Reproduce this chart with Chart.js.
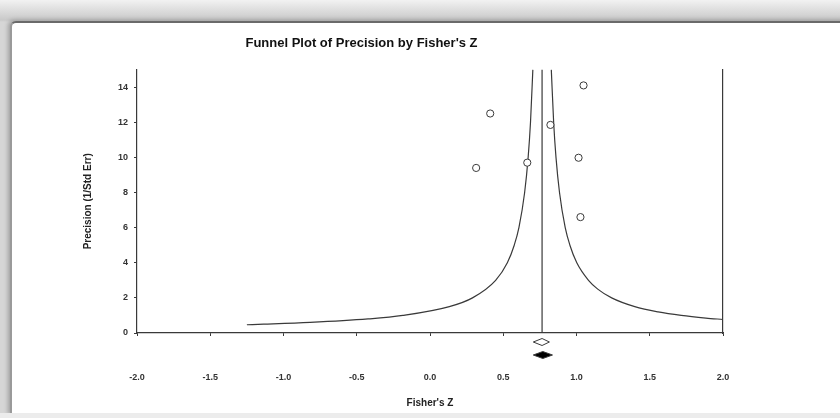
<!DOCTYPE html>
<html>
<head>
<meta charset="utf-8">
<script src="https://cdn.jsdelivr.net/npm/chart.js@4"></script>
<style>
  html, body { margin: 0; padding: 0; width: 840px; height: 418px; overflow: hidden; }
  body { background: linear-gradient(#f2f2f2, #c9c9c9 20px, #d6d6d6 22px); position: relative; }
  .panel {
    position: absolute; left: 10px; top: 21px; width: 860px; height: 392px;
    background: #fff; border-top: 2px solid #6a6a6a; border-left: 2px solid #9a9a9a;
    border-radius: 6px 0 0 0; box-shadow: -2px -1px 4px rgba(0,0,0,.25);
  }
  .strip { position: absolute; left: 0; top: 413px; width: 840px; height: 5px; background: #ececec; }
  canvas { position: absolute; left: 0; top: 0; }
</style>
</head>
<body>
<div class="panel"></div>
<div class="strip"></div>
<canvas id="js-canvas-funnel" width="840" height="418"></canvas>
<script>
  // Studies: Fisher's Z and precision (1/SE)
  const studyZ = [1.048, 0.411, 0.822, 1.014, 0.664, 0.315, 1.027];
  const studyPrecision = [14.1, 12.5, 11.85, 9.98, 9.7, 9.4, 6.6];

  // Combined effect (vertical line)
  const meanZ = 0.765;

  // Funnel arms, points
  const leftArmZ = [-1.25, -1.135, -0.818, -0.423, -0.185, 0.132, 0.29, 0.448, 0.528, 0.575, 0.607, 0.646, 0.67, 0.686, 0.702];
  const leftArmPrecision = [0.47, 0.5, 0.6, 0.8, 1, 1.5, 2, 3, 4, 5, 6, 8, 10, 12, 15];
  const rightArmZ = [0.828, 0.844, 0.86, 0.884, 0.923, 0.955, 1.002, 1.082, 1.145, 1.24, 1.398, 1.557, 1.715, 1.883, 2.0];
  const rightArmPrecision = [15, 12, 10, 8, 6, 5, 4, 3, 2.5, 2, 1.5, 1.2, 1, 0.85, 0.77];

  // Summary diamonds under the axis: open (observed), filled (adjusted)
  const diamondLow = [0.705, 0.705];
  const diamondMid = [0.765, 0.77];
  const diamondHigh = [0.815, 0.836];
  const diamondFilled = [false, true];

  const xTicks = [-2, -1.5, -1, -0.5, 0, 0.5, 1, 1.5, 2];
  const yTicks = [0, 2, 4, 6, 8, 10, 12, 14];

  const ink = '#3a3a3a';
  const family = "'Liberation Sans', Arial, sans-serif";
  const tickFont = { family, size: 9, weight: 'bold' };

  const toPoints = (xs, ys) => xs.map((x, i) => ({ x, y: ys[i] }));

  // draws the two summary diamonds between the axis and the tick labels
  const diamonds = {
    id: 'diamonds',
    afterDatasetsDraw(chart) {
      const { ctx, chartArea, scales } = chart;
      const offsets = [9, 22];
      const halfH = [3.5, 3.5];
      diamondMid.forEach((m, i) => {
        const cy = chartArea.bottom + offsets[i];
        const x0 = scales.x.getPixelForValue(diamondLow[i]);
        const xm = scales.x.getPixelForValue(m);
        const x1 = scales.x.getPixelForValue(diamondHigh[i]);
        ctx.save();
        ctx.beginPath();
        ctx.moveTo(x0, cy);
        ctx.lineTo(xm, cy - halfH[i]);
        ctx.lineTo(x1, cy);
        ctx.lineTo(xm, cy + halfH[i]);
        ctx.closePath();
        ctx.lineWidth = 1;
        ctx.strokeStyle = ink;
        ctx.fillStyle = diamondFilled[i] ? '#000' : '#fff';
        ctx.fill();
        ctx.stroke();
        ctx.restore();
      });
    }
  };

  const ctx = document.getElementById('js-canvas-funnel');
  if (ctx) {
    new Chart(ctx, {
      type: 'scatter',
      data: {
        datasets: [{
          data: toPoints(studyZ, studyPrecision),
          pointRadius: 3.6,
          pointBackgroundColor: '#fff',
          pointBorderColor: ink,
          pointBorderWidth: 1,
          order: 0
        }, {
          type: 'line',
          data: toPoints(leftArmZ, leftArmPrecision),
          borderColor: ink,
          borderWidth: 1.2,
          pointRadius: 0,
          cubicInterpolationMode: 'monotone'
        }, {
          type: 'line',
          data: toPoints(rightArmZ, rightArmPrecision),
          borderColor: ink,
          borderWidth: 1.2,
          pointRadius: 0,
          cubicInterpolationMode: 'monotone'
        }, {
          type: 'line',
          data: [{ x: meanZ, y: 0 }, { x: meanZ, y: 15 }],
          borderColor: ink,
          borderWidth: 1.2,
          pointRadius: 0
        }]
      },
      options: {
        responsive: false,
        animation: false,
        layout: { padding: { left: 0, right: 117, top: 0, bottom: 0 } },
        plugins: {
          legend: { display: false },
          tooltip: { enabled: false },
          title: {
            display: true,
            text: "Funnel Plot of Precision by Fisher's Z",
            color: '#111',
            font: { family, size: 13, weight: 'bold' },
            padding: { top: 36, bottom: 18 }
          }
        },
        scales: {
          x: {
            type: 'linear',
            min: -2,
            max: 2,
            afterBuildTicks: (s) => { s.ticks = xTicks.map(v => ({ value: v })); },
            afterFit: (s) => { s.height = 85; },
            grid: { display: true, drawOnChartArea: false, tickLength: 3, color: ink },
            border: { display: true, color: ink, width: 1.2 },
            ticks: {
              color: '#333',
              font: tickFont,
              padding: 36,
              maxRotation: 0,
              callback: (v) => Number(v).toFixed(1)
            },
            title: {
              display: true,
              text: "Fisher's Z",
              color: '#222',
              font: { family, size: 10, weight: 'bold' },
              padding: { top: 0, bottom: 9 }
            }
          },
          y: {
            min: 0,
            max: 15,
            afterBuildTicks: (s) => { s.ticks = yTicks.map(v => ({ value: v })); },
            afterFit: (s) => { s.width = 137; },
            grid: { display: true, drawOnChartArea: false, tickLength: 3, color: ink },
            border: { display: true, color: ink, width: 1.2 },
            ticks: { color: '#333', font: tickFont, padding: 6 },
            title: {
              display: true,
              text: 'Precision (1/Std Err)',
              color: '#222',
              font: { family, size: 10, weight: 'bold' },
              padding: { top: 82, bottom: 0 }
            }
          },
          y2: {
            position: 'right',
            min: 0,
            max: 15,
            afterFit: (s) => { s.width = 0; },
            grid: { display: false },
            ticks: { display: false },
            border: { display: true, color: ink, width: 1.2 }
          }
        }
      },
      plugins: [diamonds]
    });
  }
</script>
</body>
</html>
